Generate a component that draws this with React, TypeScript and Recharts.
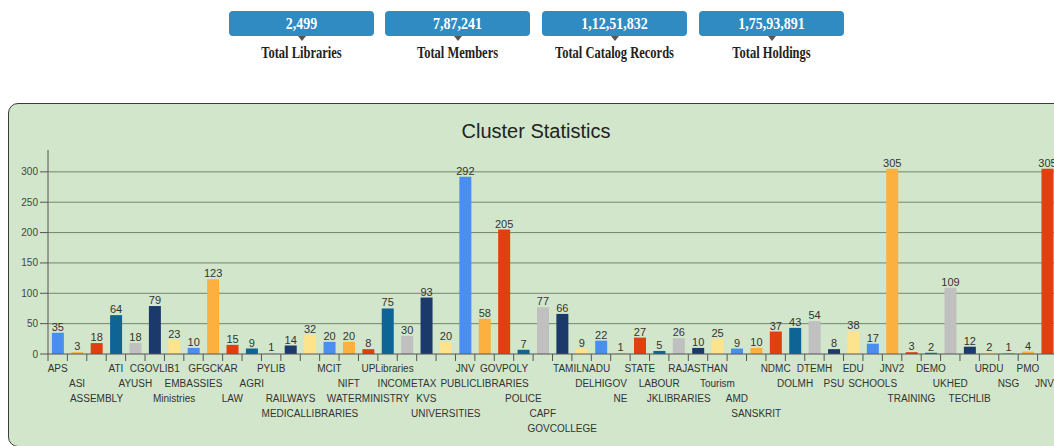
import { useMemo } from 'react';
import { Bar, BarChart, CartesianGrid, Cell, LabelList, XAxis, YAxis } from 'recharts';

// summary tiles above the chart
const statValues = ['2,499', '7,87,241', '1,12,51,832', '1,75,93,891'];
const statLabels = ['Total Libraries', 'Total Members', 'Total Catalog Records', 'Total Holdings'];

// cluster names, in chart order
const clusters = [
  'APS', 'ASI', 'ASSEMBLY', 'ATI', 'AYUSH', 'CGOVLIB1', 'Ministries', 'EMBASSIES', 'GFGCKAR', 'LAW',
  'AGRI', 'PYLIB', 'RAILWAYS', 'MEDICALLIBRARIES', 'MCIT', 'NIFT', 'WATERMINISTRY', 'UPLibraries', 'INCOMETAX', 'KVS',
  'UNIVERSITIES', 'JNV', 'PUBLICLIBRARIES', 'GOVPOLY', 'POLICE', 'CAPF', 'GOVCOLLEGE', 'TAMILNADU', 'DELHIGOV', 'NE',
  'STATE', 'LABOUR', 'JKLIBRARIES', 'RAJASTHAN', 'Tourism', 'AMD', 'SANSKRIT', 'NDMC', 'DOLMH', 'DTEMH',
  'PSU', 'EDU', 'SCHOOLS', 'JNV2', 'TRAINING', 'DEMO', 'UKHED', 'TECHLIB', 'URDU', 'NSG',
  'PMO', 'JNV3',
];

// libraries per cluster
const libraryCounts = [
  35, 3, 18, 64, 18, 79, 23, 10, 123, 15,
  9, 1, 14, 32, 20, 20, 8, 75, 30, 93,
  20, 292, 58, 205, 7, 77, 66, 9, 22, 1,
  27, 5, 26, 10, 25, 9, 10, 37, 43, 54,
  8, 38, 17, 305, 3, 2, 109, 12, 2, 1,
  4, 305,
];

const yTicks = [0, 50, 100, 150, 200, 250, 300];

const palette = ['#4a8ff0', '#fbb040', '#e0400f', '#0e6595', '#c0c0c0', '#1b3a6b', '#fde38c'];

const FONT = "Arial, 'Liberation Sans', sans-serif";
const SERIF = "'Liberation Serif', 'Times New Roman', serif";
const CHART_W = 1070;
const CHART_H = 446;
const Y_AXIS_W = 48;
const M_RIGHT = 13;
const LABEL_SIZE = 10;
const ROW_STEP = 15;

// stagger category labels like the original: each label goes to the first
// row where it clears the previous label in that row
function staggerRows(labels: string[]) {
  const band = (CHART_W - Y_AXIS_W - M_RIGHT) / labels.length;
  const ctx = document.createElement('canvas').getContext('2d')!;
  ctx.font = `${LABEL_SIZE}px ${FONT}`;
  const rowEnds: number[] = [];
  return labels.map((name, i) => {
    const w = ctx.measureText(name).width;
    const c = (i + 0.5) * band;
    const left = c - w / 2;
    let r = 0;
    while (r < rowEnds.length && left - rowEnds[r] < 3.5) r++;
    rowEnds[r] = c + w / 2;
    return r;
  });
}

function ClusterTick(props: any) {
  const { x, y, payload, rows } = props;
  const half = payload.offset ?? (CHART_W - Y_AXIS_W - M_RIGHT) / clusters.length / 2;
  const row = rows[payload.index] ?? 0;
  return (
    <g>
      <line x1={x - half} x2={x - half} y1={y - 7} y2={y} stroke="#555" />
      <text x={x} y={y + 11 + row * ROW_STEP} textAnchor="middle" fontSize={LABEL_SIZE} fill="#333" fontFamily={FONT}>
        {payload.value}
      </text>
    </g>
  );
}

function StatTile({ value, label, left }: { value: string; label: string; left: number }) {
  return (
    <div style={{ position: 'absolute', left, top: 11, width: 145 }}>
      <div
        style={{
          height: 25,
          background: '#2f8bc1',
          borderRadius: 4,
          color: '#fff',
          fontFamily: SERIF,
          fontWeight: 'bold',
          fontSize: 14,
          lineHeight: '25px',
          textAlign: 'center',
        }}
      >
        <span style={{ display: 'inline-block', transform: 'scaleY(1.15)' }}>{value}</span>
      </div>
      <div
        style={{
          width: 0,
          height: 0,
          margin: '0 auto',
          borderLeft: '4px solid transparent',
          borderRight: '4px solid transparent',
          borderTop: '5px solid #555',
        }}
      />
      <div
        style={{
          textAlign: 'center',
          fontFamily: SERIF,
          fontWeight: 'bold',
          fontSize: 12.5,
          lineHeight: '14px',
          color: '#222',
          marginTop: 5,
        }}
      >
        <span style={{ display: 'inline-block', transform: 'scaleY(1.35)' }}>{label}</span>
      </div>
    </div>
  );
}

export default function App() {
  const data = useMemo(
    () => clusters.map((name, i) => ({ name, count: libraryCounts[i] })),
    [],
  );
  const rows = useMemo(() => staggerRows(clusters), []);
  const tileLefts = [229, 385, 542, 699];

  return (
    <div
      style={{
        position: 'absolute',
        left: 0,
        top: 0,
        width: 1054,
        height: 446,
        overflow: 'hidden',
        background: '#fff',
      }}
    >
      {statValues.map((v, i) => (
        <StatTile key={v} value={v} label={statLabels[i]} left={tileLefts[i]} />
      ))}

      <div
        style={{
          position: 'absolute',
          left: 8,
          top: 103,
          width: 1100,
          height: 342,
          background: '#d2e6cb',
          border: '1.5px solid #3c3c3c',
          borderRadius: 10,
        }}
      />

      <div
        style={{
          position: 'absolute',
          left: 0,
          top: 121,
          width: 1072,
          textAlign: 'center',
          fontFamily: FONT,
          fontSize: 20,
          lineHeight: '20px',
          color: '#222',
        }}
      >
        Cluster Statistics
      </div>

      <div style={{ position: 'absolute', left: 0, top: 0 }}>
        <BarChart
          width={CHART_W}
          height={CHART_H}
          data={data}
          margin={{ top: 150, right: M_RIGHT, left: 0, bottom: 0 }}
          barCategoryGap="20%"
        >
          <CartesianGrid vertical={false} stroke="#75856d" horizontalValues={[50, 100, 150, 200, 250, 300]} />
          <XAxis
            dataKey="name"
            interval={0}
            height={92}
            tickLine={false}
            tickSize={7}
            tickMargin={0}
            axisLine={{ stroke: '#555' }}
            tick={<ClusterTick rows={rows} />}
          />
          <YAxis
            width={Y_AXIS_W}
            domain={[0, 336]}
            ticks={yTicks}
            tickSize={8}
            tickMargin={2}
            tickLine={{ stroke: '#555' }}
            axisLine={{ stroke: '#555' }}
            tick={{ fontSize: 10, fill: '#444', fontFamily: FONT }}
            allowDataOverflow
          />
          <Bar dataKey="count" isAnimationActive={false}>
            {data.map((d, i) => (
              <Cell key={d.name} fill={palette[i % palette.length]} />
            ))}
            <LabelList dataKey="count" position="top" offset={2} fontSize={11} fill="#333" fontFamily={FONT} />
          </Bar>
        </BarChart>
      </div>
    </div>
  );
}
